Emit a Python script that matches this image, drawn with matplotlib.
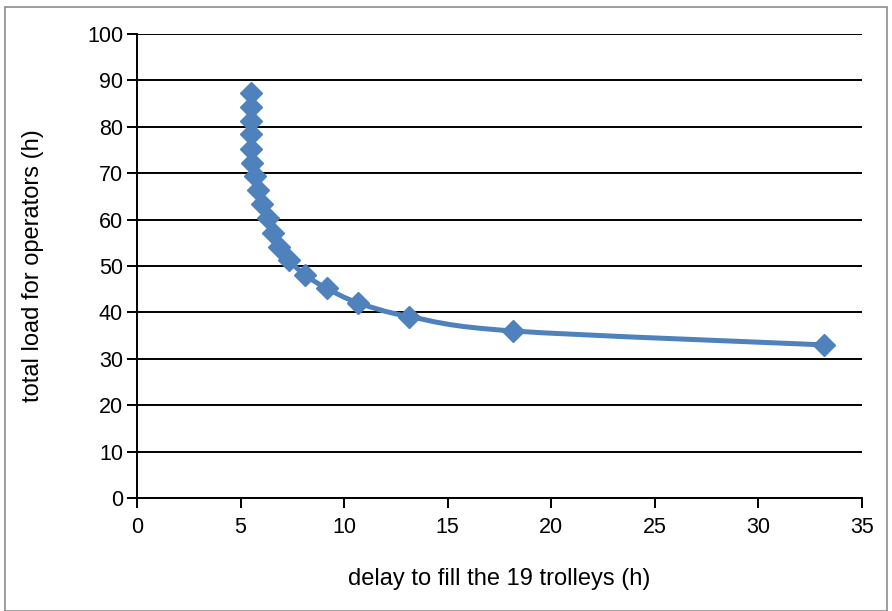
import matplotlib
matplotlib.use("Agg")
import matplotlib.pyplot as plt
from matplotlib.path import Path
from matplotlib.patches import PathPatch, Rectangle
import numpy as np

# data
delay_h = [5.50, 5.50, 5.50, 5.50, 5.50, 5.55, 5.70, 5.85, 6.05, 6.30,
           6.55, 6.85, 7.35, 8.10, 9.15, 10.65, 13.15, 18.15, 33.15]
load_h = [87.3, 84.3, 81.3, 78.4, 75.3, 72.3, 69.3, 66.3, 63.3, 60.3,
          57.2, 54.2, 51.2, 48.1, 45.2, 42.1, 39.1, 36.0, 33.0]
x_ticks = [0, 5, 10, 15, 20, 25, 30, 35]
y_ticks = [0, 10, 20, 30, 40, 50, 60, 70, 80, 90, 100]
x_label = "delay to fill the 19 trolleys (h)"
y_label = "total load for operators (h)"

BLUE = "#4F81BD"
plt.rcParams['font.family'] = ['Liberation Sans', 'DejaVu Sans']

fig = plt.figure(figsize=(8.92, 6.11), dpi=100)
W, H = 892, 611
ax = fig.add_axes([137 / W, 1 - 498 / H, (862 - 137) / W, (498 - 34) / H])

# outer chart border
fig.patches.append(Rectangle((5 / W, 0.5 / H), (887 - 5) / W, (604 - 0) / H,
                             transform=fig.transFigure, fill=False,
                             edgecolor="#8c8c8c", linewidth=1.2))

# smoothed line (Catmull-Rom style Bezier, like Excel smoothing)
pts = np.column_stack([delay_h, load_h])
n = len(pts)
verts = [tuple(pts[0])]
codes = [Path.MOVETO]
for i in range(n - 1):
    p0 = pts[i - 1] if i > 0 else pts[i]
    p1 = pts[i]
    p2 = pts[i + 1]
    p3 = pts[i + 2] if i + 2 < n else pts[i + 1]
    c1 = p1 + (p2 - p0) / 6.0
    c2 = p2 - (p3 - p1) / 6.0
    verts += [tuple(c1), tuple(c2), tuple(p2)]
    codes += [Path.CURVE4, Path.CURVE4, Path.CURVE4]
ax.add_patch(PathPatch(Path(verts, codes), facecolor="none", edgecolor=BLUE,
                       linewidth=3.6, zorder=3, capstyle="round", joinstyle="round"))

ax.plot(delay_h, load_h, linestyle="none", marker="D", markersize=11,
        color=BLUE, markeredgecolor=BLUE, zorder=4, clip_on=False)

ax.set_xlim(0, 35)
ax.set_ylim(0, 100)
ax.set_xticks(x_ticks)
ax.set_yticks(y_ticks)
ax.yaxis.grid(True, color="black", linewidth=1.4)
ax.set_axisbelow(True)
for s in ["top", "right"]:
    ax.spines[s].set_visible(False)
for s in ["left", "bottom"]:
    ax.spines[s].set_color("black")
    ax.spines[s].set_linewidth(1.4)
ax.tick_params(axis="both", direction="out", length=7, width=1.4,
               color="black", labelsize=15.5, labelcolor="black")
ax.tick_params(axis="x", pad=7)
ax.tick_params(axis="y", pad=3)

ax.set_xlabel(x_label, fontsize=17, labelpad=21)
ax.set_ylabel(y_label, fontsize=17, labelpad=31)

fig.savefig("out.png", dpi=100)
